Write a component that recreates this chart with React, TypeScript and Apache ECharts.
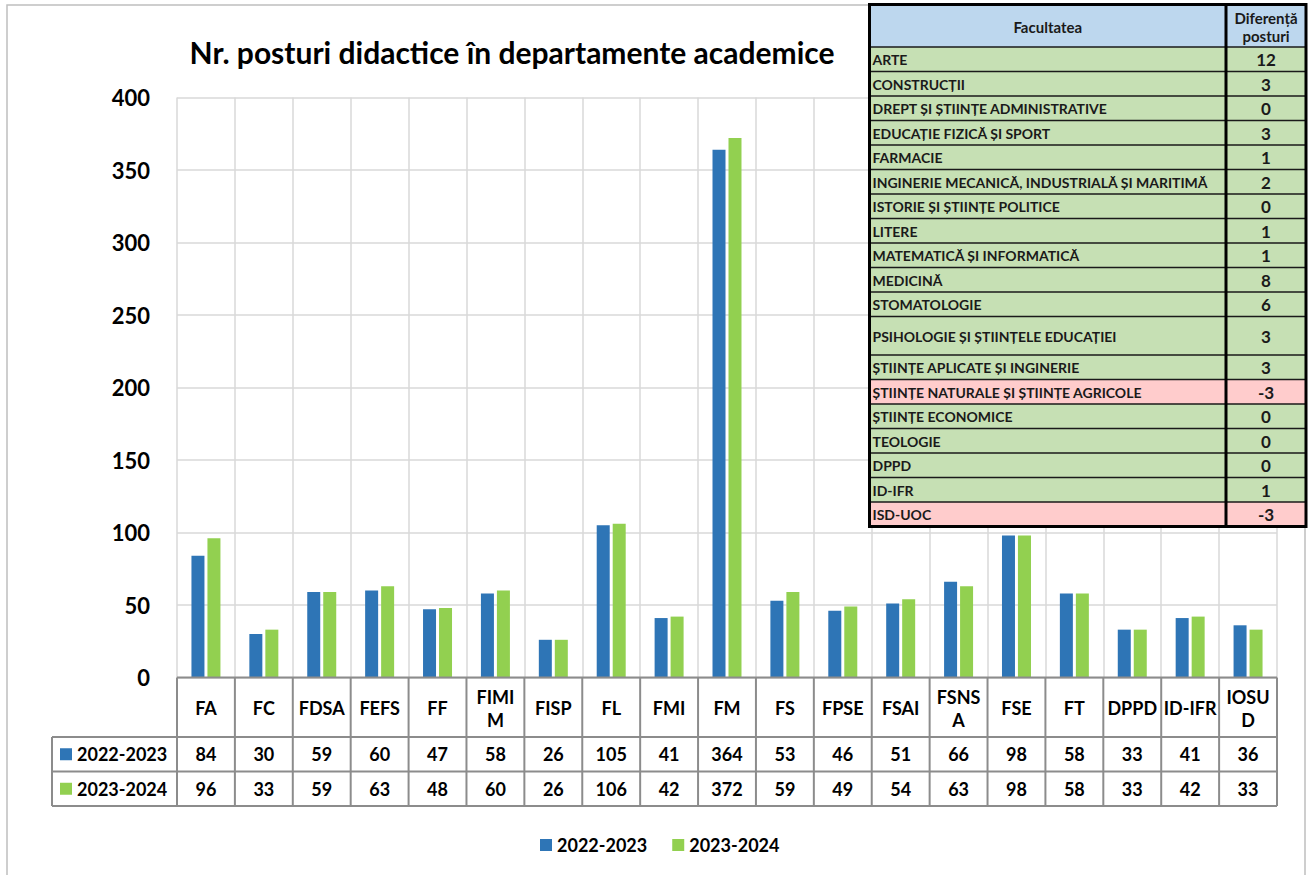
import React, { useEffect, useRef } from "react";
import * as echarts from "echarts";

const categories = ["FA", "FC", "FDSA", "FEFS", "FF", "FIMIM", "FISP", "FL", "FMI", "FM", "FS", "FPSE", "FSAI", "FSNSA", "FSE", "FT", "DPPD", "ID-IFR", "IOSUD"];
const headerLabels = ["FA", "FC", "FDSA", "FEFS", "FF", "FIMI\nM", "FISP", "FL", "FMI", "FM", "FS", "FPSE", "FSAI", "FSNS\nA", "FSE", "FT", "DPPD", "ID-IFR", "IOSU\nD"];
const seriesNames = ["2022-2023", "2023-2024"];
const values2223 = [84, 30, 59, 60, 47, 58, 26, 105, 41, 364, 53, 46, 51, 66, 98, 58, 33, 41, 36];
const values2324 = [96, 33, 59, 63, 48, 60, 26, 106, 42, 372, 59, 49, 54, 63, 98, 58, 33, 42, 33];
const yTicks = { min: 0, max: 400, interval: 50 };

const faculties = [
  "ARTE",
  "CONSTRUCȚII",
  "DREPT ȘI ȘTIINȚE ADMINISTRATIVE",
  "EDUCAȚIE FIZICĂ ȘI SPORT",
  "FARMACIE",
  "INGINERIE MECANICĂ, INDUSTRIALĂ ȘI MARITIMĂ",
  "ISTORIE ȘI ȘTIINȚE POLITICE",
  "LITERE",
  "MATEMATICĂ ȘI INFORMATICĂ",
  "MEDICINĂ",
  "STOMATOLOGIE",
  "PSIHOLOGIE ȘI ȘTIINȚELE EDUCAȚIEI",
  "ȘTIINȚE APLICATE ȘI INGINERIE",
  "ȘTIINȚE NATURALE ȘI ȘTIINȚE AGRICOLE",
  "ȘTIINȚE ECONOMICE",
  "TEOLOGIE",
  "DPPD",
  "ID-IFR",
  "ISD-UOC",
];
const differences = [12, 3, 0, 3, 1, 2, 0, 1, 1, 8, 6, 3, 3, -3, 0, 0, 0, 1, -3];

const BLUE = "#2E75B6";
const GREEN = "#92D050";
const FONT = "Lato";

export default function App() {
  const ref = useRef<HTMLDivElement>(null);

  useEffect(() => {
    if (!ref.current) return;
    const chart = echarts.init(ref.current, undefined, { renderer: "svg" });

    const W = 1308;
    const H = 875;
    const gLeft = 177;
    const gRight = 1277;
    const gTop = 97.5;
    const gBottom = 677.5;
    const n = categories.length;
    const cw = (gRight - gLeft) / n;

    const tblHeadBottom = 737;
    const row1Bottom = 771.5;
    const row2Bottom = 806;
    const tblLeft = 52;
    const lineColor = "#8C8C8C";

    const graphics: any[] = [];

    graphics.push({
      type: "rect",
      shape: { x: 7, y: 5, width: 1298, height: H + 10 },
      style: { fill: "none", stroke: "#BFBFBF", lineWidth: 1.5 },
      silent: true,
    });

    const hl = (x1: number, x2: number, y: number) =>
      graphics.push({ type: "line", shape: { x1, y1: y, x2, y2: y }, style: { stroke: lineColor, lineWidth: 2 }, z: 10 });
    const vl = (x: number, y1: number, y2: number) =>
      graphics.push({ type: "line", shape: { x1: x, y1, x2: x, y2 }, style: { stroke: lineColor, lineWidth: 2 }, z: 10 });
    hl(gLeft, gRight, gBottom);
    hl(tblLeft, gRight, tblHeadBottom);
    hl(tblLeft, gRight, row1Bottom);
    hl(tblLeft, gRight, row2Bottom);
    for (let i = 0; i <= n; i++) vl(gLeft + i * cw, gBottom, row2Bottom);
    vl(tblLeft, tblHeadBottom, row2Bottom);

    const txt = (x: number, y: number, text: string, size: number, align = "center") => ({
      type: "text",
      x,
      y,
      style: {
        text,
        fill: "#000",
        font: `bold ${size}px ${FONT}`,
        align,
        verticalAlign: "middle",
        lineHeight: 23,
      },
      z: 11,
    });

    const r1y = (tblHeadBottom + row1Bottom) / 2;
    const r2y = (row1Bottom + row2Bottom) / 2;
    for (let i = 0; i < n; i++) {
      const cx = gLeft + (i + 0.5) * cw;
      graphics.push(txt(cx, (gBottom + tblHeadBottom) / 2 + 1, headerLabels[i], 18));
      graphics.push(txt(cx, r1y, String(values2223[i]), 18));
      graphics.push(txt(cx, r2y, String(values2324[i]), 18));
    }
    [
      [r1y, BLUE, seriesNames[0]],
      [r2y, GREEN, seriesNames[1]],
    ].forEach(([y, c, name]: any) => {
      graphics.push({ type: "rect", shape: { x: 60, y: y - 6, width: 12, height: 12 }, style: { fill: c }, z: 11 });
      graphics.push(txt(77, y, name, 18, "left"));
    });

    // overlay table
    const oL = 869.5;
    const oR = 1306;
    const oMid = 1226;
    const oTop = 4.5;
    const headH = 42.5;
    const rowH = 24.5;
    const tallRow = 11;
    const tallH = 38.5;
    graphics.push({ type: "rect", shape: { x: oL, y: oTop, width: oR - oL, height: headH }, style: { fill: "#BDD7EE" }, z: 20 });
    graphics.push({
      type: "text",
      x: (oL + oMid) / 2,
      y: oTop + headH / 2 + 1,
      style: { text: "Facultatea", fill: "#1a1a1a", font: `bold 15px ${FONT}`, align: "center", verticalAlign: "middle" },
      z: 22,
    });
    graphics.push({
      type: "text",
      x: (oMid + oR) / 2,
      y: oTop + headH / 2 + 1,
      style: { text: "Diferență\nposturi", fill: "#1a1a1a", font: `bold 15px ${FONT}`, align: "center", verticalAlign: "middle", lineHeight: 18 },
      z: 22,
    });
    let y = oTop + headH;
    const rowLines: number[] = [y];
    faculties.forEach((name, i) => {
      const h = i === tallRow ? tallH : rowH;
      const fill = differences[i] < 0 ? "#FFCCCC" : "#C6E0B4";
      graphics.push({ type: "rect", shape: { x: oL, y, width: oR - oL, height: h }, style: { fill }, z: 20 });
      graphics.push({
        type: "text",
        x: oL + 3,
        y: y + h / 2 + 0.5,
        style: { text: name, fill: "#1a1a1a", font: `bold 14px ${FONT}`, align: "left", verticalAlign: "middle" },
        z: 22,
      });
      graphics.push({
        type: "text",
        x: (oMid + oR) / 2,
        y: y + h / 2 + 0.5,
        style: { text: String(differences[i]), fill: "#1a1a1a", font: `bold 17px ${FONT}`, align: "center", verticalAlign: "middle" },
        z: 22,
      });
      y += h;
      rowLines.push(y);
    });
    rowLines.forEach((ly) =>
      graphics.push({ type: "line", shape: { x1: oL, y1: ly, x2: oR, y2: ly }, style: { stroke: "#1a1a1a", lineWidth: 1.5 }, z: 21 })
    );
    graphics.push({ type: "line", shape: { x1: oMid, y1: oTop, x2: oMid, y2: y }, style: { stroke: "#000", lineWidth: 3 }, z: 21 });
    graphics.push({
      type: "rect",
      shape: { x: oL, y: oTop, width: oR - oL, height: y - oTop },
      style: { fill: "none", stroke: "#000", lineWidth: 3 },
      z: 23,
    });

    chart.setOption({
      animation: false,
      backgroundColor: "#fff",
      title: {
        text: "Nr. posturi didactice în departamente academice",
        left: 507,
        top: 32,
        textAlign: "center",
        textStyle: { fontFamily: FONT, fontWeight: "bold", fontSize: 30, color: "#000" },
      },
      legend: {
        data: seriesNames,
        left: 535,
        top: 831,
        icon: "rect",
        itemWidth: 12,
        itemHeight: 12,
        itemGap: 25,
        textStyle: { fontFamily: FONT, fontWeight: "bold", fontSize: 18, color: "#000" },
      },
      grid: { left: gLeft, right: W - gRight, top: gTop, bottom: H - gBottom, containLabel: false },
      xAxis: {
        type: "category",
        data: categories,
        axisLine: { show: false },
        axisTick: { show: false },
        axisLabel: { show: false },
        splitLine: { show: true, lineStyle: { color: "#D9D9D9", width: 1.5 } },
      },
      yAxis: {
        type: "value",
        min: yTicks.min,
        max: yTicks.max,
        interval: yTicks.interval,
        axisLine: { show: false },
        axisTick: { show: false },
        axisLabel: { fontFamily: FONT, fontWeight: "bold", fontSize: 22, color: "#000", margin: 27 },
        splitLine: { show: true, lineStyle: { color: "#D9D9D9", width: 1.5 } },
      },
      series: [
        { name: seriesNames[0], type: "bar", data: values2223, barWidth: 13, barGap: "23%", itemStyle: { color: BLUE } },
        { name: seriesNames[1], type: "bar", data: values2324, barWidth: 13, barGap: "23%", itemStyle: { color: GREEN } },
      ],
      graphic: { elements: graphics },
    });

    return () => chart.dispose();
  }, []);

  return <div ref={ref} style={{ position: "absolute", left: 0, top: 0, width: 1308, height: 875 }} />;
}
